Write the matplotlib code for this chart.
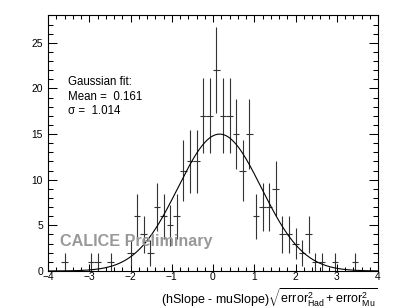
import numpy as np
import matplotlib
matplotlib.use("Agg")
import matplotlib.pyplot as plt
from matplotlib.ticker import MultipleLocator

plt.rcParams['font.family'] = ['Liberation Sans', 'DejaVu Sans']
plt.rcParams['mathtext.fontset'] = 'custom'
plt.rcParams['mathtext.rm'] = 'Liberation Sans'
plt.rcParams['mathtext.it'] = 'Liberation Sans:italic'
plt.rcParams['mathtext.bf'] = 'Liberation Sans:bold'

# Histogram: 50 bins from -4 to 4
bin_lo = -4.0
bin_hi = 4.0
n_bins = 50
counts = [0, 0, 1, 0, 0, 0, 1, 1, 0, 1,
          0, 0, 2, 6, 4, 2, 7, 6, 5, 6,
          11, 12, 12, 17, 17, 22, 17, 17, 15, 11,
          15, 6, 7, 7, 9, 4, 4, 3, 2, 4,
          1, 1, 0, 1, 0, 0, 1, 0, 0, 0]

# Gaussian fit parameters
fit_mean = 0.161
fit_sigma = 1.014
fit_amp = 15.0

W, H = 399, 308
fig = plt.figure(figsize=(W / 100, H / 100), dpi=100)
ax = fig.add_axes([48 / W, 1 - 271 / H, (378 - 48) / W, (271 - 15) / H])

edges = np.linspace(bin_lo, bin_hi, n_bins + 1)
centers = 0.5 * (edges[:-1] + edges[1:])
half = 0.5 * (edges[1] - edges[0])
c = np.array(counts, dtype=float)
m = c > 0
ax.errorbar(centers[m], c[m], yerr=np.sqrt(c[m]), xerr=half,
            fmt='none', ecolor='#333333', elinewidth=0.8, capsize=0)

xf = np.linspace(bin_lo, bin_hi, 400)
ax.plot(xf, fit_amp * np.exp(-0.5 * ((xf - fit_mean) / fit_sigma) ** 2),
        color='black', lw=0.8)

ax.set_xlim(bin_lo, bin_hi)
ax.set_ylim(0, 28.05)
ax.xaxis.set_major_locator(MultipleLocator(1))
ax.xaxis.set_minor_locator(MultipleLocator(0.2))
ax.yaxis.set_major_locator(MultipleLocator(5))
ax.yaxis.set_minor_locator(MultipleLocator(1))
ax.tick_params(axis='both', which='both', direction='in', top=True, right=True,
               width=0.75, labelsize=7.4, colors='black')
ax.tick_params(axis='x', which='major', length=5.2, pad=0.6)
ax.tick_params(axis='x', which='minor', length=2.6)
ax.tick_params(axis='y', which='major', length=6.6, pad=3.5)
ax.tick_params(axis='y', which='minor', length=3.3)
for s in ax.spines.values():
    s.set_linewidth(0.8)

ax.text(68 / W, 1 - 82 / H, "Gaussian fit:", transform=fig.transFigure,
        fontsize=8.3, va='center', ha='left')
ax.text(68 / W, 1 - 96.5 / H, "Mean =  %.3f" % fit_mean, transform=fig.transFigure,
        fontsize=8.3, va='center', ha='left')
ax.text(68 / W, 1 - 110.5 / H, "\u03c3 =  %.3f" % fit_sigma, transform=fig.transFigure,
        fontsize=8.3, va='center', ha='left')

fig.text(60 / W, 1 - 245.7 / H, "CALICE Preliminary", fontsize=11.6,
         fontweight='bold', color='#999999', ha='left', va='baseline')

fig.text(378 / W, 1 - 303.2 / H,
         r"(hSlope - muSlope)$\sqrt{\mathrm{error}^{2}_{\mathrm{Had}}+\mathrm{error}^{2}_{\mathrm{Mu}}}$",
         fontsize=9.0, ha='right', va='baseline')

fig.savefig("out.png", dpi=100)
